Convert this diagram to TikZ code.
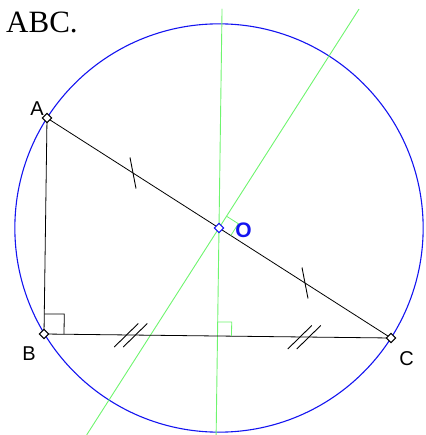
\documentclass[tikz,border=0pt]{standalone}
\usepackage{fontspec}
\setmainfont{Liberation Serif}
\newfontfamily\lsans{Liberation Sans}
\usetikzlibrary{calc}
\definecolor{lgreen}{RGB}{110,245,110}
\definecolor{cblue}{RGB}{20,20,240}
\begin{document}
\begin{tikzpicture}[x=1pt,y=-1pt,
  mk/.style={draw=black, fill=white, rotate=45, minimum size=6.5pt, inner sep=0pt, line width=1pt},
  lab/.style={font=\lsans\fontsize{20}{20}\selectfont, inner sep=0pt},
  tri/.style={black, line width=0.8pt},
  perp/.style={lgreen, line width=0.9pt},
  tick/.style={black, line width=0.9pt},
  rmark/.style={line width=0.8pt}]
\useasboundingbox (0,0) rectangle (425,435);
\coordinate (A) at (47,118);
\coordinate (B) at (44,334);
\coordinate (C) at (391,338);
\coordinate (O) at ($(A)!0.5!(C)$);
\coordinate (M) at ($(B)!0.5!(C)$);
% circumcircle
\draw[cblue, line width=1.1pt] let \p1=($(A)-(O)$), \n1={veclen(\x1,\y1)} in (O) circle (\n1);
% perpendicular bisectors
\coordinate (V1) at ($(O)!-2.03!(M)$);
\coordinate (V2) at ($(O)!1.917!(M)$);
\coordinate (W1) at ($(O)!1.273!90:(C)$);
\coordinate (W2) at ($(O)!-1.203!90:(C)$);
\draw[perp] (V1) -- (V2);
\draw[perp] (W1) -- (W2);
% triangle
\draw[tri] (A) -- (B) -- (C) -- cycle;
% right angle marks
\draw[rmark, black] ($(B)!20pt!(A)$) -- ++(20,0) -- ($(B)!20pt!(C)$);
\draw[rmark, lgreen] ($(M)!14pt!(O)$) -- ++(14,0) -- ($(M)!14pt!(C)$);
\coordinate (R1) at ($(O)!14pt!(C)$);
\coordinate (R2) at ($(O)!14pt!(W1)$);
\draw[rmark, lgreen] (R2) -- ($(R1)+(R2)-(O)$) -- (R1);
% ticks on AC
\coordinate (P1) at ($(A)!0.5!(O)$);
\coordinate (P2) at ($(O)!0.5!(C)$);
\draw[tick] ($(P1)+(-3,-15.5)$) -- ($(P1)+(3,15.5)$);
\draw[tick] ($(P2)+(-3,-15.5)$) -- ($(P2)+(3,15.5)$);
% double ticks on BC
\coordinate (Q1) at ($(B)!0.5!(M)$);
\coordinate (Q2) at ($(M)!0.5!(C)$);
\foreach \q in {Q1,Q2}{
  \draw[tick] ($(\q)+(-4.5,0)+(-12,12)$) -- ($(\q)+(-4.5,0)+(12,-11.5)$);
  \draw[tick] ($(\q)+(4.5,0)+(-12,12)$) -- ($(\q)+(4.5,0)+(12,-11.5)$);
}
% point markers
\node[mk] (mA) at (A) {};
\node[mk] (mB) at (B) {};
\node[mk] (mC) at (C) {};
\node[mk, draw=cblue] (mO) at (O) {};
% labels
\node[lab] (lA) at (37,108.5) {A};
\node[lab] (lB) at (29,353.5) {B};
\node[lab] (lC) at (406.5,358.5) {C};
\node[lab, text=cblue, font=\lsans\bfseries\fontsize{21}{21}\selectfont] (lO) at (243.5,230) {O};
\node[anchor=base west, inner sep=0pt, font=\fontsize{31}{31}\selectfont] (title) at (6,33) {ABC.};
\end{tikzpicture}
\end{document}
